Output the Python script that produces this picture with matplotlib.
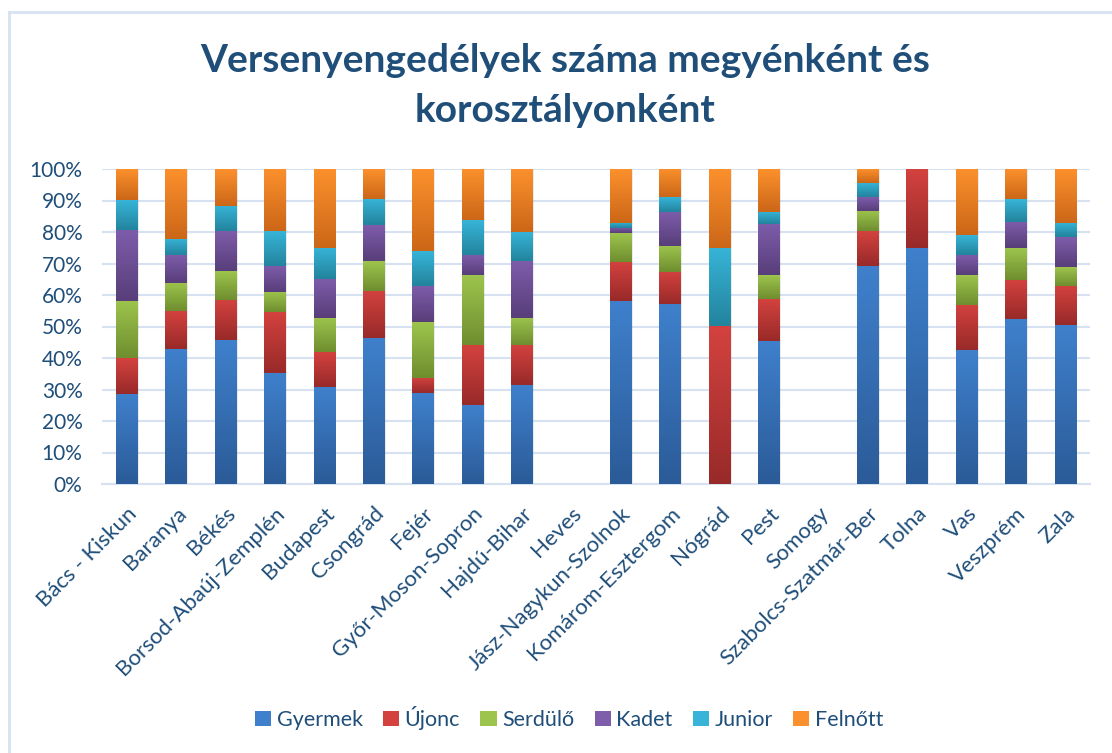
import numpy as np
import matplotlib
matplotlib.use("Agg")
import matplotlib.pyplot as plt
from matplotlib.colors import LinearSegmentedColormap
from matplotlib.patches import Rectangle
from matplotlib.lines import Line2D

plt.rcParams['font.family'] = ['Lato', 'DejaVu Sans']

counties = ["Bács - Kiskun", "Baranya", "Békés", "Borsod-Abaúj-Zemplén", "Budapest",
            "Csongrád", "Fejér", "Győr-Moson-Sopron", "Hajdú-Bihar", "Heves",
            "Jász-Nagykun-Szolnok", "Komárom-Esztergom", "Nógrád", "Pest", "Somogy",
            "Szabolcs-Szatmár-Ber", "Tolna", "Vas", "Veszprém", "Zala"]
series_names = ["Gyermek", "Újonc", "Serdülő", "Kadet", "Junior", "Felnőtt"]

gyermek = [28.6, 42.9, 45.7, 35.2, 30.8, 46.3, 28.9, 25.1, 31.4, 0, 58.1, 57.1, 0, 45.4, 0, 69.2, 75.0, 42.5, 52.4, 50.5]
ujonc   = [11.4, 12.0, 12.8, 19.4, 11.1, 15.0, 4.8, 19.0, 12.7, 0, 12.4, 10.2, 50.0, 13.3, 0, 11.1, 25.0, 14.3, 12.4, 12.4]
serdulo = [18.1, 8.9, 9.1, 6.4, 10.8, 9.5, 17.7, 22.2, 8.6, 0, 9.2, 8.3, 0, 7.6, 0, 6.4, 0, 9.5, 10.1, 6.0]
kadet   = [22.6, 8.9, 12.7, 8.3, 12.4, 11.4, 11.6, 6.4, 18.1, 0, 1.6, 10.9, 0, 16.3, 0, 4.4, 0, 6.4, 8.4, 9.5]
junior  = [9.5, 5.1, 8.1, 11.0, 9.9, 8.3, 11.0, 11.1, 9.3, 0, 1.6, 4.6, 25.0, 3.9, 0, 4.5, 0, 6.3, 7.2, 4.5]
felnott = [9.8, 22.2, 11.6, 19.7, 25.0, 9.5, 26.0, 16.2, 19.9, 0, 17.1, 8.9, 25.0, 13.5, 0, 4.4, 0, 21.0, 9.5, 17.1]

series = [gyermek, ujonc, serdulo, kadet, junior, felnott]
# (top colour, bottom colour) gradients
grad = [("#3F80CC", "#2B5B98"), ("#D3423F", "#982A29"), ("#9DC44D", "#6F8E2F"),
        ("#7E5DAB", "#583E7A"), ("#37B4D8", "#23849D"), ("#FB902C", "#CC6718")]

text_col = "#1F4E79"
grid_col = "#D6E1F1"

fig = plt.figure(figsize=(11.12, 7.53), dpi=100)
ax = fig.add_axes([102/1112, 1 - 484/753, (1090-102)/1112, (484-169)/753])

x = np.arange(len(counties))
width = 0.43
bottom = np.zeros(len(counties))
legend_handles = []
for vals, (ctop, cbot), name in zip(series, grad, series_names):
    v = np.array(vals, dtype=float) / 100.0
    bars = ax.bar(x, v, width, bottom=bottom, color='none', edgecolor='none', zorder=3)
    cmap = LinearSegmentedColormap.from_list(name, [cbot, ctop])
    g = np.linspace(0, 1, 64).reshape(-1, 1)
    for b in bars:
        h = b.get_height()
        if h <= 0:
            continue
        x0, y0 = b.get_x(), b.get_y()
        # shadow
        ax.add_patch(Rectangle((x0 + 0.03, y0 - 0.003), b.get_width(), h,
                               facecolor="#000000", alpha=0.08, edgecolor='none', zorder=2))
        ax.imshow(g, extent=[x0, x0 + b.get_width(), y0, y0 + h], origin='lower',
                  cmap=cmap, aspect='auto', zorder=3, interpolation='bilinear')
    bottom += v
    legend_handles.append(Rectangle((0, 0), 1, 1, facecolor=ctop, edgecolor='none'))

ax.set_xlim(-0.5, len(counties) - 0.5)
ax.set_ylim(0, 1.0)
ax.set_yticks(np.arange(0, 1.01, 0.1))
ax.set_yticklabels([f"{int(round(t*100))}%" for t in np.arange(0, 1.01, 0.1)])
ax.yaxis.grid(True, color=grid_col, linewidth=1.5, zorder=0)
ax.set_axisbelow(True)
for s in ["top", "right", "left"]:
    ax.spines[s].set_visible(False)
ax.spines["bottom"].set_color(grid_col)
ax.spines["bottom"].set_linewidth(1.5)
ax.tick_params(axis='both', length=0, colors=text_col)
ax.tick_params(axis='y', pad=14, labelsize=15)
ax.set_xticks(x)
ax.set_xticklabels(counties, rotation=45, ha='right', rotation_mode='anchor', fontsize=16)
ax.tick_params(axis='x', pad=14)

fig.text(565/1112, 1 - 60/753, "Versenyengedélyek száma megyénként és", ha='center', va='center',
         fontsize=28, fontweight='bold', color=text_col)
fig.text(565/1112, 1 - 111/753, "korosztályonként", ha='center', va='center',
         fontsize=28, fontweight='bold', color=text_col)

fig.legend(legend_handles, series_names, loc='center', bbox_to_anchor=(569/1112, 1 - 718/753),
           ncol=6, frameon=False, fontsize=15.5, labelcolor=text_col, handlelength=0.75,
           handleheight=0.75, handletextpad=0.25, columnspacing=0.95)

# chart border
fig.add_artist(Line2D([9/1112, 9/1112], [0, 1 - 12/753], color=grid_col, linewidth=2))
fig.add_artist(Line2D([9/1112, 1], [1 - 12/753, 1 - 12/753], color=grid_col, linewidth=2))

fig.savefig("out.png", dpi=100, facecolor='white')
